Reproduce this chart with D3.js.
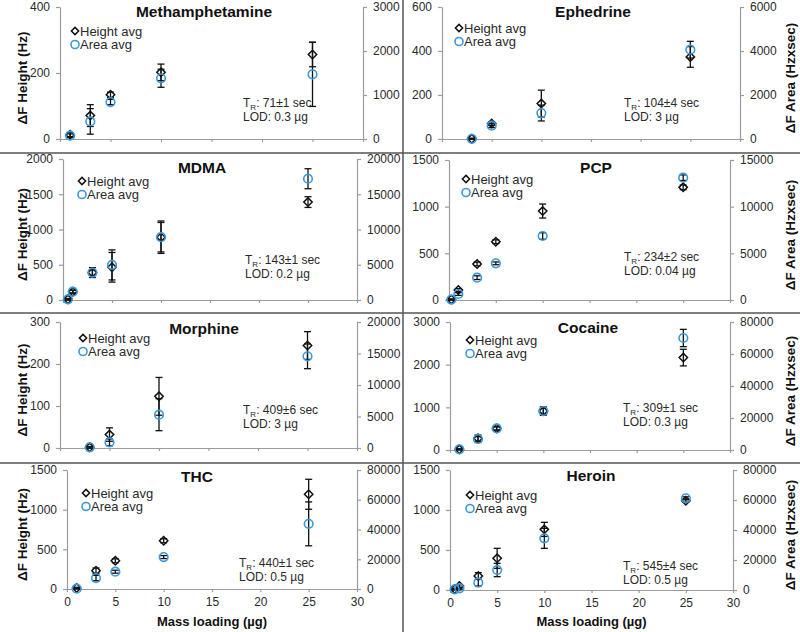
<!DOCTYPE html>
<html><head><meta charset="utf-8">
<script src="https://cdn.jsdelivr.net/npm/d3@7"></script>
<style>
body{margin:0;background:#fff}
svg{display:block}
text{font-family:"Liberation Sans",Arial,Helvetica,sans-serif}
</style>
</head><body>
<svg id="chart" width="800" height="632"></svg>
<script>
// ---------- DATA ----------
const drugs = ["Methamphetamine","Ephedrine","MDMA","PCP","Morphine","Cocaine","THC","Heroin"];
const retention = ["71±1","104±4","143±1","234±2","409±6","309±1","440±1","545±4"];
const lod = ["0.3","3","0.2","0.04","3","0.3","0.5","0.5"];
const xTicks = [0,5,10,15,20,25,30];

const massMeth = [1,3,5,10,25];
const heightMeth = [13,71,134,202,256];
const heightErrMeth = [6,33,8,25,37];
const areaMeth = [76,400,840,1380,1470];
const areaErrMeth = [40,290,60,205,730];

const massEph = [3,5,10,25];
const heightEph = [1,70,161,373];
const heightErrEph = [2,8,61,47];
const areaEph = [10,606,1180,4060];
const areaErrEph = [20,90,360,380];

const massMDMA = [0.5,1,3,5,10,25];
const heightMDMA = [10,118,389,464,891,1389];
const heightErrMDMA = [10,20,70,210,230,76];
const areaMDMA = [100,1185,3886,4976,8909,17200];
const areaErrMDMA = [100,200,400,2130,2090,1420];

const massPCP = [0.25,1,3,5,10,25];
const heightPCP = [5,107,386,625,953,1207];
const heightErrPCP = [5,15,20,20,75,25];
const areaPCP = [50,643,2393,3928,6856,13105];
const areaErrPCP = [50,150,200,150,350,300];

const massMorph = [3,5,10,25];
const heightMorph = [1.6,32,123,244];
const heightErrMorph = [2,16,45,33];
const areaMorph = [106,900,5290,14550];
const areaErrMorph = [100,530,2540,1960];

const massCoc = [1,3,5,10,25];
const heightCoc = [16,273,506,912,2166];
const heightErrCoc = [10,78,40,100,195];
const areaCoc = [416,6860,13500,24300,70000];
const areaErrCoc = [300,1500,1000,2000,5400];

const massTHC = [1,3,5,10,25];
const heightTHC = [13,230,356,608,1194];
const heightErrTHC = [8,34,25,25,189];
const areaTHC = [224,7375,11622,21456,43806];
const areaErrTHC = [200,1788,1000,1000,14751];

const massHer = [0.5,1,3,5,10,25];
const heightHer = [12.5,50,175,396,758,1117];
const heightErrHer = [10,15,42,125,88,20];
const areaHer = [444,1111,4889,13333,34444,61111];
const areaErrHer = [300,600,2222,4444,6666,1000];

const heightTicks = [
  [0,200,400],[0,200,400,600],[0,500,1000,1500,2000],[0,500,1000,1500],
  [0,100,200,300],[0,1000,2000,3000],[0,500,1000,1500],[0,500,1000,1500]
];
const areaTicks = [
  [0,1000,2000,3000],[0,2000,4000,6000],[0,5000,10000,15000,20000],[0,5000,10000,15000],
  [0,5000,10000,15000,20000],[0,20000,40000,60000,80000],[0,20000,40000,60000,80000],[0,20000,40000,60000,80000]
];

const series = [
  [massMeth,heightMeth,heightErrMeth,areaMeth,areaErrMeth],
  [massEph,heightEph,heightErrEph,areaEph,areaErrEph],
  [massMDMA,heightMDMA,heightErrMDMA,areaMDMA,areaErrMDMA],
  [massPCP,heightPCP,heightErrPCP,areaPCP,areaErrPCP],
  [massMorph,heightMorph,heightErrMorph,areaMorph,areaErrMorph],
  [massCoc,heightCoc,heightErrCoc,areaCoc,areaErrCoc],
  [massTHC,heightTHC,heightErrTHC,areaTHC,areaErrTHC],
  [massHer,heightHer,heightErrHer,areaHer,areaErrHer]
];

// ---------- LAYOUT ----------
const boxes = [
  {l:60,r:363,t:7,b:139, tx:204,ty:17, lx:75,ly:31, rx:243,ry:107},
  {l:442,r:740,t:7,b:139, tx:593,ty:17, lx:459,ly:28, rx:624,ry:107},
  {l:63,r:357,t:159,b:300, tx:202,ty:173, lx:82,ly:181, rx:245,ry:264},
  {l:449,r:730,t:160,b:300, tx:596,ty:173, lx:466,ly:179, rx:624,ry:261},
  {l:60,r:357,t:322,b:448, tx:204,ty:334, lx:83,ly:338, rx:243,ry:414},
  {l:450,r:730,t:322,b:450, tx:588,ty:333, lx:470,ly:340, rx:623,ry:412},
  {l:67,r:357,t:470,b:589, tx:197,ty:482, lx:86,ly:493, rx:239,ry:567},
  {l:450,r:733,t:470,b:590, tx:591,ty:481, lx:470,ly:495, rx:623,ry:570}
];

const axisColor = "#9c9c9c";
const textColor = "#2a2a2a";
const blue = "#3a98d8";
const svg = d3.select("#chart");
const diamond = "M0,-4.2L4.2,0L0,4.2L-4.2,0Z";

function styleAxis(g){
  g.select(".domain").attr("stroke", axisColor).attr("stroke-width",1.2);
  g.selectAll(".tick line").attr("stroke", axisColor).attr("stroke-width",1.2);
  g.selectAll(".tick text").attr("fill", textColor).style("font-size","12px").style("font-family",'"Liberation Sans",Arial,sans-serif');
}

function errBars(g, xs, vals, errs, x, y){
  const eg = g.append("g").attr("stroke","#111").attr("stroke-width",1.3).attr("fill","none");
  xs.forEach((m,i)=>{
    const cx = x(m), y1 = y(vals[i]-errs[i]), y2 = y(vals[i]+errs[i]);
    eg.append("line").attr("x1",cx).attr("x2",cx).attr("y1",y1).attr("y2",y2);
    eg.append("line").attr("x1",cx-3.5).attr("x2",cx+3.5).attr("y1",y1).attr("y2",y1);
    eg.append("line").attr("x1",cx-3.5).attr("x2",cx+3.5).attr("y1",y2).attr("y2",y2);
  });
}

drugs.forEach((name, i) => {
  const B = boxes[i];
  const [mass, h, hErr, a, aErr] = series[i];
  const x = d3.scaleLinear().domain([0,30]).range([B.l,B.r]);
  const yL = d3.scaleLinear().domain([0,d3.max(heightTicks[i])]).range([B.b,B.t]);
  const yR = d3.scaleLinear().domain([0,d3.max(areaTicks[i])]).range([B.b,B.t]);
  const g = svg.append("g");
  const bottomRow = i >= 6;
  const leftCol = i % 2 === 0;

  // axes
  const ax = g.append("g").attr("transform",`translate(0,${B.b})`)
    .call(d3.axisBottom(x).tickValues(xTicks).tickSizeInner(3).tickSizeOuter(0).tickPadding(5)
      .tickFormat(bottomRow ? d3.format("d") : () => ""));
  styleAxis(ax);
  const al = g.append("g").attr("transform",`translate(${B.l},0)`)
    .call(d3.axisLeft(yL).tickValues(heightTicks[i]).tickSizeInner(4).tickSizeOuter(0).tickPadding(6).tickFormat(d3.format("d")));
  styleAxis(al);
  const ar = g.append("g").attr("transform",`translate(${B.r},0)`)
    .call(d3.axisRight(yR).tickValues(areaTicks[i]).tickSizeInner(4).tickSizeOuter(0).tickPadding(6).tickFormat(d3.format("d")));
  styleAxis(ar);

  // error bars
  errBars(g, mass, h, hErr, x, yL);
  errBars(g, mass, a, aErr, x, yR);

  // markers
  g.append("g").selectAll("path").data(mass).join("path")
    .attr("d", diamond)
    .attr("transform",(m,j)=>`translate(${x(m)},${yL(h[j])})`)
    .attr("fill","none").attr("stroke","#111").attr("stroke-width",1.5);
  g.append("g").selectAll("circle").data(mass).join("circle")
    .attr("cx", m=>x(m)).attr("cy",(m,j)=>yR(a[j])).attr("r",4.3)
    .attr("fill","none").attr("stroke",blue).attr("stroke-width",1.6);

  // title
  g.append("text").attr("x",B.tx).attr("y",B.ty).attr("text-anchor","middle")
    .attr("fill","#111").style("font-size","15.5px").style("font-weight","bold").text(name);

  // legend
  g.append("path").attr("d","M0,-3.6L3.6,0L0,3.6L-3.6,0Z").attr("transform",`translate(${B.lx},${B.ly})`)
    .attr("fill","none").attr("stroke","#111").attr("stroke-width",1.5);
  g.append("text").attr("x",B.lx+5).attr("y",B.ly).attr("dy","0.36em")
    .attr("fill",textColor).style("font-size","13px").text("Height avg");
  g.append("circle").attr("cx",B.lx).attr("cy",B.ly+13.5).attr("r",4)
    .attr("fill","none").attr("stroke",blue).attr("stroke-width",1.6);
  g.append("text").attr("x",B.lx+5).attr("y",B.ly+13.5).attr("dy","0.36em")
    .attr("fill",textColor).style("font-size","13px").text("Area avg");

  // annotation
  const t = g.append("text").attr("x",B.rx).attr("y",B.ry).attr("fill",textColor).style("font-size","12px");
  t.append("tspan").text("T");
  t.append("tspan").attr("dy",2.5).style("font-size","8px").text("R");
  t.append("tspan").attr("dy",-2.5).text(": " + retention[i] + " sec");
  g.append("text").attr("x",B.rx).attr("y",B.ry+14).attr("fill",textColor).style("font-size","12px")
    .text("LOD: " + lod[i] + " µg");

  // axis titles
  const cy = (B.t+B.b)/2 + 5;
  if (leftCol) {
    g.append("text").attr("transform",`translate(22,${cy}) rotate(-90)`).attr("text-anchor","middle")
      .attr("dy","0.35em").attr("fill","#111").style("font-size","13.5px").style("font-weight","bold")
      .text("ΔF Height (Hz)");
  } else {
    g.append("text").attr("transform",`translate(790,${cy}) rotate(-90)`).attr("text-anchor","middle")
      .attr("dy","0.35em").attr("fill","#111").style("font-size","13.5px").style("font-weight","bold")
      .text("ΔF Area (Hzxsec)");
  }
  if (bottomRow) {
    g.append("text").attr("x",(B.l+B.r)/2).attr("y",626).attr("text-anchor","middle")
      .attr("fill","#111").style("font-size","13px").style("font-weight","bold")
      .text("Mass loading (µg)");
  }
});

// panel separators
const sep = svg.append("g").attr("stroke","#555").attr("stroke-width",1.5);
sep.append("line").attr("x1",403).attr("x2",403).attr("y1",0).attr("y2",632);
[153,313,463].forEach(yv => sep.append("line").attr("x1",0).attr("x2",800).attr("y1",yv).attr("y2",yv));
</script>
</body></html>
